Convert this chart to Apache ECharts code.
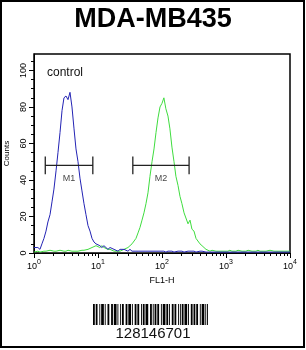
<!DOCTYPE html>
<html>
<head>
<meta charset="utf-8">
<script src="https://cdn.jsdelivr.net/npm/echarts@6/dist/echarts.min.js"></script>
<style>
  html, body { margin: 0; padding: 0; background: #fff; }
  #main { width: 306px; height: 350px; }
</style>
</head>
<body>
<div id="main"></div>
<script>
// FL1-H channel intensities (log scale bins)
const fl1 = [
  1.00, 1.07, 1.15, 1.24, 1.33, 1.43, 1.54, 1.65, 1.78, 1.91, 2.05, 2.21, 2.37, 2.55, 2.74, 2.94,
  3.16, 3.40, 3.65, 3.92, 4.22, 4.53, 4.87, 5.23, 5.62, 6.04, 6.49, 6.98, 7.50, 8.06, 8.66, 9.31,
  10.0, 10.7, 11.5, 12.4, 13.3, 14.3, 15.4, 16.5, 17.8, 19.1, 20.5, 22.1, 23.7, 25.5, 27.4, 29.4,
  31.6, 34.0, 36.5, 39.2, 42.2, 45.3, 48.7, 52.3, 56.2, 60.4, 64.9, 69.8, 75.0, 80.6, 86.6, 93.1,
  100, 107, 115, 124, 133, 143, 154, 165, 178, 191, 205, 221, 237, 255, 274, 294,
  316, 340, 365, 392, 422, 453, 487, 523, 562, 604, 649, 698, 750, 806, 866, 931,
  1000, 1070, 1150, 1240, 1330, 1430, 1540, 1650, 1780, 1910, 2050, 2210, 2370, 2550, 2740, 2940,
  3160, 3400, 3650, 3920, 4220, 4530, 4870, 5230, 5620, 6040, 6490, 6980, 7500, 8060, 8660, 9310,
  10000
];
// control (blue)
const controlCounts = [
  3, 2, 3, 2, 5, 8, 12, 17, 21, 28, 35, 45, 55, 66, 78, 85,
  86, 84, 88, 80, 68, 57, 50, 41, 34, 27, 21, 15, 12, 8, 6, 5,
  4, 4, 3, 4, 3, 2, 3, 2, 2, 2, 1, 2, 1, 2, 1, 1,
  2, 1, 1, 1, 1, 0.5, 1, 1, 1, 1, 0.5, 1, 1, 1, 1, 1,
  1, 1, 0.5, 1, 1, 1, 0.5, 1, 1, 1, 1, 0.5, 1, 1, 1, 1,
  1, 0.5, 0.5, 1, 1, 0.5, 0.5, 0.5, 0.5, 0.5, 0.5, 0.5, 0.5, 0.5, 0.5, 0.5,
  0.5, 0.5, 0.5, 0.5, 0.5, 0.5, 0.5, 0.5, 0.5, 0.5, 0.5, 0.5, 0.5, 0.5, 0.5, 0.5,
  0.5, 0.5, 0.5, 0.5, 0.5, 0.5, 0.5, 0.5, 0.5, 0.5, 0.5, 0.5, 0.5, 0.5, 0.5, 0.5,
  0.5
];
// MDA-MB435 sample (green)
const sampleCounts = [
  0.5, 1, 1, 0.5, 1, 1, 1, 1, 1.5, 1, 1, 1, 1, 1.5, 1, 1,
  1, 1.5, 1, 1, 1, 1.5, 1, 1, 1.5, 1.5, 2, 2, 3, 3, 4, 4,
  4, 3, 4, 3, 3, 2, 2, 2, 1, 1, 1, 1, 2, 2, 3, 3,
  4, 5, 6, 8, 11, 14, 18, 22, 27, 33, 42, 50, 57, 66, 74, 80,
  82, 85, 79, 75, 68, 58, 50, 42, 37, 31, 27, 22, 21, 16, 18, 13,
  12, 8, 7, 5, 4, 3, 2, 2, 1, 1.5, 1, 1, 1.5, 1, 1, 1,
  1, 1, 1.5, 1, 1, 1, 1.5, 1, 1, 1, 1, 1.5, 1, 1, 1, 1,
  1.5, 1, 1, 1, 1, 1, 1.5, 1, 1, 1, 1, 1, 1, 1, 1, 1,
  1
];

const xMajorTicks = [1, 10, 100, 1000, 10000];
const xTickExponents = ['0', '1', '2', '3', '4'];
const xMinorTicks = [
  2, 3, 4, 5, 6, 7, 8, 9,
  20, 30, 40, 50, 60, 70, 80, 90,
  200, 300, 400, 500, 600, 700, 800, 900,
  2000, 3000, 4000, 5000, 6000, 7000, 8000, 9000
];
const yMajorTicks = [0, 20, 40, 60, 80, 100];
const yMinorTicks = [5, 10, 15, 25, 30, 35, 45, 50, 55, 65, 70, 75, 85, 90, 95, 105];

const markerNames = ['M1', 'M2'];
const markerRanges = [[1.5, 8.3], [35, 265]];
const markerLevel = 48;
const markerCap = 4.8;

const titleText = 'MDA-MB435';
const barcodeDigits = '128146701';
const barcodePattern = '1101100101110100110011011101001011001101110100110110010110111001101011011001011101101001101100101011011101001101101100101110101';

const FONT = '"Liberation Sans", Arial, sans-serif';
const NARROW = '"Liberation Sans Narrow", "Liberation Sans", Arial, sans-serif';

let myChart = echarts.init(document.getElementById('main'));

function markerPath(r) {
  return [
    [r[0], markerLevel + markerCap], [r[0], markerLevel - markerCap], [r[0], markerLevel],
    [r[1], markerLevel], [r[1], markerLevel + markerCap], [r[1], markerLevel - markerCap]
  ];
}

// barcode bars from the pattern
let graphics = [];
const bcLeft = 93, bcTop = 304, bcWidth = 115, bcHeight = 21;
const mod = bcWidth / barcodePattern.length;
let i = 0;
while (i < barcodePattern.length) {
  if (barcodePattern[i] === '1') {
    let j = i;
    while (j < barcodePattern.length && barcodePattern[j] === '1') j++;
    graphics.push({
      type: 'rect', silent: true,
      shape: { x: bcLeft + i * mod, y: bcTop, width: (j - i) * mod, height: bcHeight },
      style: { fill: '#000' }
    });
    i = j;
  } else {
    i++;
  }
}
graphics.push({
  type: 'text', left: 'center', top: 326,
  style: { text: barcodeDigits, font: '15px ' + FONT, fill: '#111' }
});
graphics.push({
  type: 'text', left: 47, top: 67,
  style: { text: 'control', font: '12px ' + FONT, fill: '#111' }
});
graphics.push({
  type: 'rect', silent: true,
  shape: { x: 1, y: 1, width: 303, height: 346 },
  style: { fill: 'none', stroke: '#000', lineWidth: 2 }
});

let series = [
  {
    name: 'sample', type: 'line', xAxisIndex: 0, yAxisIndex: 0,
    showSymbol: false, symbol: 'none',
    lineStyle: { color: '#3fdc3f', width: 1 },
    data: sampleCounts.map((c, k) => [fl1[k], c])
  },
  {
    name: 'control', type: 'line', xAxisIndex: 0, yAxisIndex: 0,
    showSymbol: false, symbol: 'none',
    lineStyle: { color: '#2323b4', width: 1 },
    data: controlCounts.map((c, k) => [fl1[k], c])
  }
];
markerRanges.forEach((r, k) => {
  series.push({
    name: markerNames[k], type: 'line', showSymbol: false, symbol: 'none',
    lineStyle: { color: '#222', width: 1.3 },
    data: markerPath(r)
  });
  series.push({
    type: 'scatter', symbolSize: 0,
    label: {
      show: true, position: 'bottom', distance: 9,
      formatter: markerNames[k], fontSize: 9, fontFamily: NARROW, color: '#111'
    },
    data: [[Math.sqrt(r[0] * r[1]), markerLevel]]
  });
});

myChart.setOption({
  animation: false,
  title: {
    text: titleText, left: 'center', top: 1,
    textStyle: { fontSize: 27, fontWeight: 'bold', fontFamily: FONT, color: '#000' }
  },
  grid: {
    left: 34, right: 16, top: 54, bottom: 97,
    outerBoundsMode: 'none', containLabel: false,
    show: true, borderColor: '#000', borderWidth: 1.5
  },
  xAxis: [
    {
      type: 'log', logBase: 10, min: 1, max: 10000,
      name: 'FL1-H', nameLocation: 'middle', nameGap: 16,
      nameTextStyle: { fontSize: 9, fontFamily: FONT, color: '#000' },
      axisLine: { lineStyle: { color: '#000', width: 1 } },
      axisTick: { length: 5, customValues: xMajorTicks, lineStyle: { color: '#000' } },
      axisLabel: {
        customValues: xMajorTicks, margin: 6,
        formatter: function (v) {
          return '{b|10}{s|' + xTickExponents[xMajorTicks.indexOf(v)] + '}';
        },
        rich: {
          b: { fontSize: 9, fontFamily: NARROW, color: '#000', verticalAlign: 'bottom', lineHeight: 12 },
          s: { fontSize: 7, fontFamily: NARROW, color: '#000', verticalAlign: 'top', lineHeight: 12 }
        }
      },
      splitLine: { show: false }, minorTick: { show: false }
    },
    {
      type: 'log', logBase: 10, min: 1, max: 10000, position: 'bottom',
      axisLine: { show: false },
      axisTick: { length: 3, customValues: xMinorTicks, lineStyle: { color: '#000' } },
      axisLabel: { show: false }, splitLine: { show: false }
    }
  ],
  yAxis: [
    {
      type: 'value', min: 0, max: 109,
      name: 'Counts', nameLocation: 'middle', nameGap: 13,
      nameTextStyle: { fontSize: 8, fontFamily: FONT, color: '#000' },
      axisLine: { show: true, lineStyle: { color: '#000', width: 1 } },
      axisTick: { show: true, length: 5, customValues: yMajorTicks, lineStyle: { color: '#000' } },
      axisLabel: {
        customValues: yMajorTicks, rotate: 90, margin: 6,
        fontSize: 9, fontFamily: NARROW, color: '#000'
      },
      splitLine: { show: false }
    },
    {
      type: 'value', min: 0, max: 109, position: 'left',
      axisLine: { show: false },
      axisTick: { show: true, length: 3, customValues: yMinorTicks, lineStyle: { color: '#000' } },
      axisLabel: { show: false }, splitLine: { show: false }
    }
  ],
  series: series,
  graphic: graphics
});
</script>
</body>
</html>
